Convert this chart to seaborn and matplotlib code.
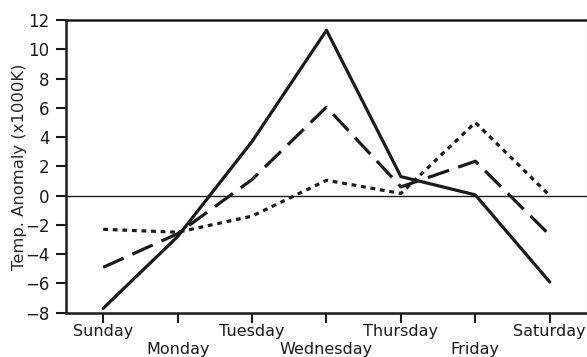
import matplotlib
matplotlib.use("Agg")
import matplotlib.pyplot as plt
import seaborn as sns
import pandas as pd

days = ["Sunday", "Monday", "Tuesday", "Wednesday", "Thursday", "Friday", "Saturday"]
solid_vals = [-7.7, -2.8, 3.7, 11.3, 1.3, 0.05, -5.9]
dashed_vals = [-4.9, -2.6, 1.1, 6.05, 0.6, 2.35, -2.7]
dotted_vals = [-2.3, -2.5, -1.4, 1.05, 0.15, 5.0, 0.0]
y_ticks = [-8, -6, -4, -2, 0, 2, 4, 6, 8, 10, 12]

rows = []
for name, vals in [("solid", solid_vals), ("dashed", dashed_vals), ("dotted", dotted_vals)]:
    for d, v in zip(days, vals):
        rows.append({"day": d, "value": v, "series": name})
df = pd.DataFrame(rows)

sns.set_style("white")
plt.rcParams["font.family"] = ["DejaVu Sans"]

fig = plt.figure(figsize=(5.87, 3.57), dpi=100)
ax = fig.add_axes([0.1124, 0.124, 0.8876, 0.82])

ax.axhline(0, color="#1a1a1a", linewidth=1.0, zorder=1)

sns.lineplot(
    data=df, x="day", y="value", style="series",
    dashes={"solid": "", "dashed": (7, 3), "dotted": (1.5, 1.5)},
    color="#1a1a1a", linewidth=2.3, sort=False, legend=False, ax=ax,
)

ax.set_xlim(-0.5, 6.5)
ax.set_ylim(-8, 12)
ax.set_yticks(y_ticks)
ax.set_yticklabels([str(t).replace("-", "\u2212") for t in y_ticks], fontsize=12)
ax.set_xticks(range(len(days)))
ax.set_xticklabels(days, fontsize=11.5)
ax.set_xlabel("")
ax.set_ylabel("Temp. Anomaly (x1000K)", fontsize=11.8)
ax.yaxis.set_label_coords(-0.075, 0.5)

ax.tick_params(axis="both", direction="out", length=7, width=1.5, color="#1a1a1a",
               left=True, bottom=True, labelcolor="#1a1a1a")
ax.tick_params(axis="y", pad=5)
ax.tick_params(axis="x", pad=1)
# stagger the day names on two rows
for i, tick in enumerate(ax.xaxis.get_major_ticks()):
    if i % 2 == 1:
        tick.set_pad(14)

for side in ["left", "bottom", "top"]:
    ax.spines[side].set_linewidth(1.8)
    ax.spines[side].set_color("#1a1a1a")
ax.spines["right"].set_linewidth(0.8)
ax.spines["right"].set_color("#555555")

fig.savefig("out.png", dpi=100)
